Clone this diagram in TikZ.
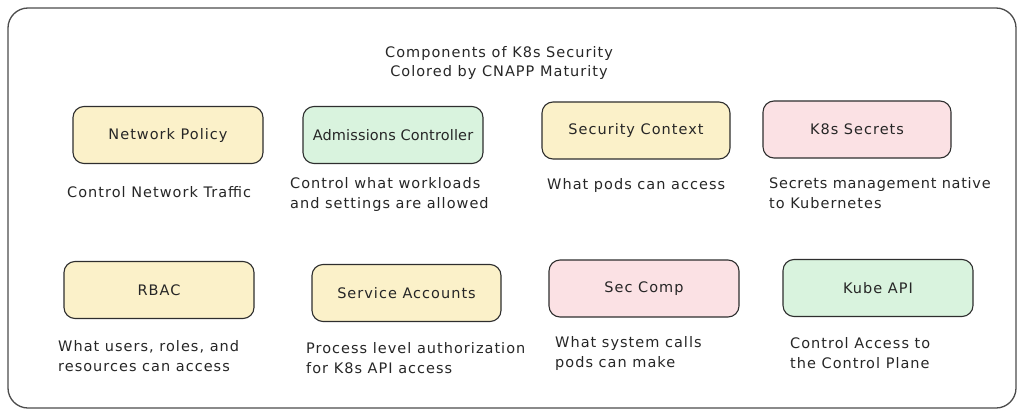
\documentclass[tikz,border=0pt]{standalone}
\usepackage{fontspec}
\setmainfont{DejaVu Sans}[LetterSpace=7]
\definecolor{yel}{HTML}{FBF1C9}
\definecolor{grn}{HTML}{D9F3DE}
\definecolor{pnk}{HTML}{FBE1E4}
\definecolor{edge}{HTML}{2E2E2E}
\begin{document}
\begin{tikzpicture}[x=1pt,y=-1pt,
  comp/.style={draw=edge, line width=1.1pt, rounded corners=11pt, minimum height=57pt, inner sep=0pt, font=\fontsize{14.5}{15}\selectfont, text=black!85},
  desc/.style={anchor=west, inner sep=0pt, align=left, font=\fontsize{14.5}{20}\selectfont, text=black!85},
  ttl/.style={inner sep=0pt, align=center, font=\fontsize{14.5}{20}\selectfont, text=black!85}]
\useasboundingbox (0,0) rectangle (1024,417);
\draw[draw=black!70, line width=1.3pt, rounded corners=20pt] (8,8) rectangle (1016,408);
\node[ttl] (title) at (499,63) {Components of K8s Security\\Colored by CNAPP Maturity};
% row 1
\node[comp, fill=yel, minimum width=190pt] (np) at (168,135) {Network Policy};
\node[comp, fill=grn, minimum width=180pt] (ac) at (393,135) {\addfontfeature{LetterSpace=1}Admissions Controller};
\node[comp, fill=yel, minimum width=188pt] (sc) at (636,130.5) {Security Context};
\node[comp, fill=pnk, minimum width=188pt] (ks) at (857,129.5) {K8s Secrets};
% row 2
\node[comp, fill=yel, minimum width=190pt] (rb) at (159,290) {RBAC};
\node[comp, fill=yel, minimum width=189pt] (sa) at (406.5,293) {Service Accounts};
\node[comp, fill=pnk, minimum width=190pt] (cp) at (644,288.5) {Sec Comp};
\node[comp, fill=grn, minimum width=190pt] (ka) at (878,288) {Kube API};
% descriptions
\node[desc] (dnp) at (67,192) {Control Network Traffic};
\node[desc] (dac) at (290,194) {Control what workloads\\and settings are allowed};
\node[desc] (dsc) at (547,185) {What pods can access};
\node[desc] (dks) at (769,193) {\addfontfeature{LetterSpace=5}Secrets management native\\to Kubernetes};
\node[desc] (drb) at (58,356) {What users, roles, and\\resources can access};
\node[desc] (dsa) at (306,358.5) {Process level authorization\\for K8s API access};
\node[desc] (dcp) at (555,353) {What system calls\\pods can make};
\node[desc] (dka) at (790,353) {Control Access to\\the Control Plane};
\end{tikzpicture}
\end{document}
